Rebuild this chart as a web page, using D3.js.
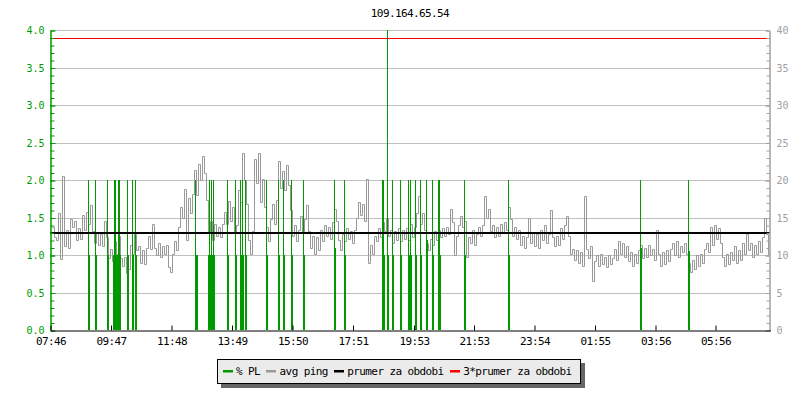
<!DOCTYPE html>
<html>
<head>
<meta charset="utf-8">
<script src="https://cdn.jsdelivr.net/npm/d3@7"></script>
<style>
body{margin:0;background:#fff;}
svg text{font-family:"DejaVu Sans Mono",monospace;}
</style>
</head>
<body>
<svg id="chart" width="800" height="400"></svg>
<script>
// chart data
const title = "109.164.65.54";
const startTime = "07:46";
const xTickLabels = ["07:46","09:47","11:48","13:49","15:50","17:51","19:53","21:53","23:54","01:55","03:56","05:56"];
const leftTicks = [0,0.5,1.0,1.5,2.0,2.5,3.0,3.5,4.0];   // % PL
const rightTicks = [0,5,10,15,20,25,30,35,40];           // ms
const pingStart = "07:50";
const pingStepMin = 4;
// avg ping [ms]
const avgPing = [
13.8,12.4,12.0,15.6,9.5,20.5,11.2,13.4,11.0,14.8,
13.8,14.6,12.0,13.6,12.2,15.4,13.4,15.8,14.2,16.6,
13.2,11.6,13.0,11.4,12.8,11.2,14.6,12.4,9.6,10.8,
9.2,11.8,10.2,12.6,9.6,8.6,9.8,7.6,8.2,11.4,
10.2,12.8,10.6,11.2,9.0,10.6,8.8,11.0,12.6,10.8,
14.2,11.0,10.0,11.6,9.8,11.2,10.2,11.4,8.4,7.8,
10.2,11.8,10.6,13.8,16.4,15.0,18.8,12.0,17.6,15.6,
18.2,21.4,18.0,22.2,20.0,23.2,21.0,17.4,13.0,14.6,
12.0,14.2,12.6,13.8,12.4,14.2,15.8,14.2,17.2,14.6,
16.4,13.0,14.0,18.6,17.0,23.6,20.0,16.8,12.0,10.2,
13.2,22.8,19.6,23.6,17.0,20.2,16.4,13.8,11.8,14.8,
16.8,14.2,17.4,22.6,19.0,21.2,18.6,22.0,19.4,16.0,
12.6,14.0,11.8,13.4,15.2,13.0,14.8,16.6,13.2,11.0,
12.6,10.2,12.4,10.6,13.4,11.8,14.0,12.6,13.8,12.2,
14.4,16.2,14.6,12.0,10.6,12.8,11.8,13.6,12.2,13.2,
11.6,13.4,15.0,17.0,15.4,16.8,14.6,20.2,9.0,11.4,
10.2,12.6,11.8,13.6,12.4,14.4,13.2,15.0,12.6,13.4,
11.6,13.2,12.0,13.6,11.8,13.4,12.2,13.6,12.0,14.2,
12.4,13.8,15.6,17.8,14.2,15.6,13.4,11.6,10.6,12.2,
11.4,13.2,12.0,13.4,12.4,13.6,12.6,13.8,12.8,16.2,
14.4,10.0,12.6,14.0,15.2,13.8,14.6,9.8,12.4,11.6,
13.4,11.4,12.8,13.8,12.6,14.0,17.8,15.0,16.2,13.2,
14.0,12.4,13.8,12.6,14.2,13.0,14.4,13.4,16.4,14.8,
12.6,13.8,12.2,13.4,11.4,12.6,11.0,12.4,15.0,11.6,
13.0,11.2,12.8,11.0,13.4,12.0,14.0,11.6,12.8,16.0,
12.4,11.2,12.6,11.4,13.6,12.2,14.0,15.2,12.6,10.2,
10.8,9.4,10.6,9.0,10.4,8.6,17.8,10.8,9.6,11.2,
6.6,9.2,10.0,8.6,10.2,8.8,9.8,8.4,10.0,8.8,
9.6,10.8,9.4,11.8,10.2,11.6,9.8,11.2,9.2,10.4,
8.6,10.2,9.0,10.6,11.4,9.6,11.0,9.8,11.4,10.0,
10.8,9.4,13.4,10.2,8.6,10.4,8.8,10.6,9.2,10.8,
11.6,10.0,11.8,9.8,11.2,10.4,11.6,10.2,9.0,7.8,
9.4,8.2,10.0,8.6,10.2,9.0,10.8,11.6,10.4,13.8,
11.4,14.0,12.2,13.6,11.6,9.8,8.6,10.2,8.8,10.4,
9.4,11.2,9.0,10.6,9.4,11.6,10.2,12.8,10.6,11.6,
9.8,11.4,10.2,11.8,10.4,12.4,15.0,12.8,10.2,13.0
];
// packet loss events: [time, peak %, lower %]
const plEvents = [
["09:02",2,1],["09:15",2,1],["09:40",2,1],
["09:52",1,1],["09:54",2,1],["09:56",2,1],["09:58",1,1],["10:00",1,1],["10:02",2,1],["10:04",2,1],
["10:20",2,1],["10:30",2,1],["10:36",2,1],
["12:36",2,1],["12:38",1,1],
["13:02",1,1],["13:04",2,1],["13:06",1,1],["13:08",2,1],["13:10",1,1],["13:12",2,1],
["13:40",2,1],["13:56",2,1],
["14:06",2,1],["14:08",1,1],["14:10",2,1],
["14:16",2,1],["14:58",2,1],["15:22",2,1],["15:32",2,1],["15:48",2,1],["16:12",2,1],
["17:14",2,1.1],["17:33",2,1],
["18:50",2,1],["18:52",2,1],["19:00",6,1],
["19:10",2,1],["19:26",2,1],["19:42",2,1],["19:46",2,1],
["19:56",2,1],["20:07",2,1],["20:18",2,1.2],["20:30",2,1],
["20:42",2,1],["20:44",2,1],
["21:34",2,1],["23:02",2,1],
["03:26",2,1.1],["05:02",2,1.05]
];
const prumer = 13;      // ms
const prumer3 = 39;     // ms
const legendLabels = ["% PL","avg ping","prumer za obdobi","3*prumer za obdobi"];

const green = "#009a00", gray = "#999999";
const legendColors = [green, gray, "#000000", "#ff0000"];

const svg = d3.select("#chart");
const base = new Date(2024,0,1,7,46);
function parseHM(s){
  const p = s.split(":");
  const d = new Date(2024,0,1,+p[0],+p[1]);
  if (d < base) d.setDate(d.getDate()+1);
  return d;
}
const t0 = parseHM(startTime);
const t1 = d3.timeDay.offset(t0,1);

const x = d3.scaleTime().domain([t0,t1]).range([50,770]);
const yPL = d3.scaleLinear().domain([0,4]).range([330,30]);
const yPing = d3.scaleLinear().domain([0,40]).range([330,30]);

// title
svg.append("text").attr("x",410).attr("y",17).attr("text-anchor","middle")
  .attr("font-size",11).attr("letter-spacing",-0.6).attr("fill","#000").text(title);

// grid
svg.append("g").selectAll("line").data(leftTicks.filter(d=>d>0)).enter().append("line")
  .attr("x1",50).attr("x2",770)
  .attr("y1",d=>Math.round(yPL(d))+0.5).attr("y2",d=>Math.round(yPL(d))+0.5)
  .attr("stroke","#c0c0c0");

const plot = svg.append("g");
svg.append("clipPath").attr("id","clip").append("rect")
  .attr("x",50).attr("y",30).attr("width",720).attr("height",300);
plot.attr("clip-path","url(#clip)");

// avg ping line
const pingData = avgPing.map((v,i)=>({t:d3.timeMinute.offset(parseHM(pingStart),i*pingStepMin),v:v}));
const line = d3.line().x(d=>Math.round(x(d.t))+0.5).y(d=>Math.round(yPing(d.v))+0.5).curve(d3.curveStepAfter);
plot.append("path").datum(pingData).attr("d",line)
  .attr("fill","none").attr("stroke",gray).attr("stroke-width",1);

// packet loss
const pl = plEvents.map(d=>({t:parseHM(d[0]),peak:d[1],low:d[2]}));
plot.selectAll(".plLow").data(pl).enter().append("rect")
  .attr("x",d=>Math.round(x(d.t))).attr("y",d=>Math.round(yPL(d.low)))
  .attr("width",2).attr("height",d=>330-Math.round(yPL(d.low)))
  .attr("fill",green);
plot.selectAll(".plPeak").data(pl).enter().append("line")
  .attr("x1",d=>Math.round(x(d.t))+0.5).attr("x2",d=>Math.round(x(d.t))+0.5)
  .attr("y1",330).attr("y2",d=>Math.round(yPL(d.peak)))
  .attr("stroke",green);

// average lines
plot.append("line").attr("x1",50).attr("x2",770)
  .attr("y1",Math.round(yPing(prumer))).attr("y2",Math.round(yPing(prumer)))
  .attr("stroke","#000").attr("stroke-width",2);
plot.append("line").attr("x1",50).attr("x2",770)
  .attr("y1",Math.round(yPing(prumer3))+0.5).attr("y2",Math.round(yPing(prumer3))+0.5)
  .attr("stroke","#ff0000").attr("stroke-width",1);

// left axis (green)
const minorPL = d3.range(0,41).map(d=>d/10);
const gLm = svg.append("g").attr("transform","translate(50.5,0.5)")
  .call(d3.axisLeft(yPL).tickValues(minorPL).tickSize(-4).tickSizeOuter(0).tickFormat(""));
const gL = svg.append("g").attr("transform","translate(50.5,0.5)")
  .call(d3.axisLeft(yPL).tickValues(leftTicks).tickSize(-5).tickSizeOuter(0).tickPadding(6).tickFormat(d3.format(".1f")));
[gLm,gL].forEach(g=>{g.selectAll("path,line").attr("stroke",green);});
gL.selectAll("text").attr("fill",green).attr("font-size",10).attr("font-family","DejaVu Sans Mono");

// right axis (gray)
const minorMs = d3.range(0,41);
const gRm = svg.append("g").attr("transform","translate(769.5,0.5)")
  .call(d3.axisRight(yPing).tickValues(minorMs).tickSize(-3).tickSizeOuter(0).tickFormat(""));
const gR = svg.append("g").attr("transform","translate(769.5,0.5)")
  .call(d3.axisRight(yPing).tickValues(rightTicks).tickSize(-4).tickSizeOuter(0).tickPadding(7));
[gRm,gR].forEach(g=>{g.selectAll("path,line").attr("stroke","#a0a0a0");});
gR.selectAll("text").attr("fill","#a0a0a0").attr("font-size",10).attr("font-family","DejaVu Sans Mono");

// bottom axis
const gB = svg.append("g").attr("transform","translate(0.5,330.5)")
  .call(d3.axisBottom(x).tickValues(xTickLabels.map(parseHM)).tickSize(-5).tickSizeOuter(0).tickPadding(7)
    .tickFormat((d,i)=>xTickLabels[i]));
gB.selectAll("path,line").attr("stroke","#000");
gB.selectAll("text").attr("fill","#000").attr("font-size",11).attr("letter-spacing",-0.6)
  .attr("font-family","DejaVu Sans Mono");

// legend
const lg = svg.append("g");
lg.append("rect").attr("x",221).attr("y",363).attr("width",364).attr("height",25).attr("fill","#666");
lg.append("rect").attr("x",217.5).attr("y",359.5).attr("width",363).attr("height",24)
  .attr("fill","#ebebeb").attr("stroke","#000");
let lx = 222.5;
legendLabels.forEach((name,i)=>{
  lg.append("rect").attr("x",Math.round(lx)).attr("y",370).attr("width",10).attr("height",2.5).attr("fill",legendColors[i]);
  const t = lg.append("text").attr("x",lx+13.5).attr("y",375).attr("font-size",11).attr("letter-spacing",-0.6)
    .attr("fill","#000").text(name);
  lx = lx + 13.5 + t.node().getComputedTextLength() + 6;
});
</script>
</body>
</html>
